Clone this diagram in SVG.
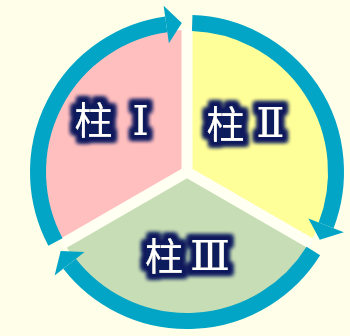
<svg xmlns="http://www.w3.org/2000/svg" width="350" height="336" viewBox="0 0 350 336">
<style>
.bg{fill:#FFFEE8}
.gap{stroke:#FFFFF2;stroke-width:11;stroke-linecap:butt;fill:none}
.ring{fill:none;stroke:#03A5C6;stroke-width:16;stroke-linecap:butt}
.head{fill:#03A5C6}
.cjk{font-family:"Noto Sans CJK SC","Noto Sans CJK JP",sans-serif;font-size:38px;fill:#FFFFFF;text-anchor:middle}
.num{font-family:"Liberation Serif","DejaVu Serif","Noto Sans CJK SC",serif;font-size:41px;fill:#FFFFFF;text-anchor:middle}
.lbl{filter:url(#glow)}
</style>
<defs>
<filter id="glow" x="-30%" y="-40%" width="160%" height="180%">
<feMorphology in="SourceAlpha" operator="dilate" radius="5" result="d"/>
<feGaussianBlur in="d" stdDeviation="2.2" result="b"/>
<feFlood flood-color="#0B1A5C"/>
<feComposite in2="b" operator="in" result="g"/>
<feMerge><feMergeNode in="g"/><feMergeNode in="g"/><feMergeNode in="SourceGraphic"/></feMerge>
</filter>
</defs>
<rect class="bg" x="0" y="0" width="350" height="336"/>
<g id="node-1">
<path d="M187,172 L64.02,243 A142,142 0 0 1 187,30 Z" fill="#FFBFBF"/>
</g>
<g id="node-2">
<path d="M187,172 L187,30 A142,142 0 0 1 309.98,243 Z" fill="#FFFF99"/>
</g>
<g id="node-3">
<path d="M187,172 L309.98,243 A142,142 0 0 1 64.02,243 Z" fill="#C6DDB5"/>
</g>
<g id="gaps">
<line class="gap" x1="187" y1="172" x2="187" y2="28"/>
<line class="gap" x1="187" y1="172" x2="311.7" y2="244"/>
<line class="gap" x1="187" y1="172" x2="62.3" y2="244"/>
</g>
<g id="connectors">
<path class="ring" d="M55.44,241.95 A149,149 0 0 1 166.26,24.45"/>
<polygon class="head" points="168.90,43.26 181.80,23.09 163.61,5.63"/>
<path class="ring" d="M192.20,23.09 A149,149 0 0 1 326.10,225.40"/>
<polygon class="head" points="308.37,218.59 319.76,239.65 343.84,232.21"/>
<path class="ring" d="M313.35,250.96 A149,149 0 0 1 69.59,263.74"/>
<polygon class="head" points="84.56,252.04 60.65,250.96 54.62,275.44"/>
</g>
<g id="label-1" class="lbl">
<text x="93.5" y="134"><tspan class="cjk">柱</tspan><tspan class="num" x="140.5" y="135">Ⅰ</tspan></text>
</g>
<g id="label-2" class="lbl">
<text x="225.5" y="138"><tspan class="cjk">柱</tspan><tspan class="num" x="270.5" y="137">Ⅱ</tspan></text>
</g>
<g id="label-3" class="lbl">
<text x="164" y="270"><tspan class="cjk">柱</tspan><tspan class="num" x="210" y="270">Ⅲ</tspan></text>
</g>
</svg>
